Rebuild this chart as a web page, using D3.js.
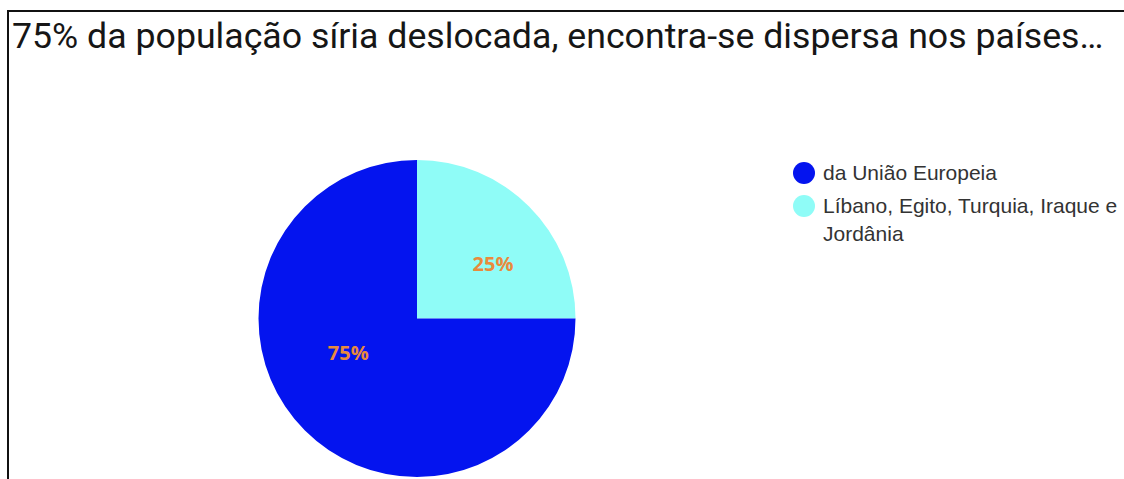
<!DOCTYPE html>
<html>
<head>
<meta charset="utf-8">
<script src="https://cdn.jsdelivr.net/npm/d3@7"></script>
<style>
  html, body { margin: 0; padding: 0; background: #fff; }
  svg { display: block; }
</style>
</head>
<body>
<svg id="chart" width="1124" height="479"></svg>
<script>
// Chart content
const title = "75% da população síria deslocada, encontra-se dispersa nos países…";
const categories = ["da União Europeia", "Líbano, Egito, Turquia, Iraque e Jordânia"];
const legendLines = [["da União Europeia"], ["Líbano, Egito, Turquia, Iraque e", "Jordânia"]];
const values = [75, 25];
const colors = ["#0414ef", "#8ffcf7"];

const svg = d3.select("#chart");
const W = 1124, H = 479;

// Frame: top and left rules
svg.append("line").attr("x1", 8).attr("x2", W).attr("y1", 11).attr("y2", 11)
  .attr("stroke", "#111").attr("stroke-width", 2);
svg.append("line").attr("x1", 8).attr("x2", 8).attr("y1", 10).attr("y2", H)
  .attr("stroke", "#111").attr("stroke-width", 2);

// Title
svg.append("text")
  .attr("x", 12).attr("y", 48)
  .attr("font-family", "Roboto, sans-serif")
  .attr("font-size", 35.7)
  .attr("fill", "#161616")
  .text(title);

// Pie
const cx = 417, cy = 318.5, R = 158.5;
const total = d3.sum(values);
const pie = d3.pie().sort(null).startAngle(0).endAngle(2 * Math.PI);
// order slices so the small one starts at 12 o'clock going clockwise
const order = [1, 0];
const arcsData = pie(order.map(i => values[i]));
const arc = d3.arc().innerRadius(0).outerRadius(R);

const g = svg.append("g").attr("transform", `translate(${cx},${cy})`);
g.selectAll("path.slice")
  .data(arcsData)
  .join("path")
  .attr("class", "slice")
  .attr("d", arc)
  .attr("fill", (d, k) => colors[order[k]]);

// Percentage labels, nudged clockwise from each slice's mid-angle
const fmt = d3.format(".0%");
function labelPos(d) {
  const span = d.endAngle - d.startAngle;
  let a = (d.startAngle + d.endAngle) / 2;
  let r = R * 0.59;
  if (span > Math.PI) { a += 0.32; r = R * 0.485; }
  else { a += 0.164; }
  return [Math.sin(a) * r, -Math.cos(a) * r];
}
g.selectAll("text.pct")
  .data(arcsData)
  .join("text")
  .attr("class", "pct")
  .attr("transform", d => `translate(${labelPos(d)})`)
  .attr("text-anchor", "middle")
  .attr("dy", "0.36em")
  .attr("font-family", "'Open Sans', sans-serif")
  .attr("font-weight", "bold")
  .attr("font-size", 20)
  .attr("fill", "#e98a3c")
  .text(d => fmt(d.value / total));

// Legend
const legend = svg.append("g");
const legendY = [173, 206];
categories.forEach((c, i) => {
  const item = legend.append("g");
  item.append("circle")
    .attr("cx", 804).attr("cy", legendY[i]).attr("r", 11)
    .attr("fill", colors[i]);
  const t = item.append("text")
    .attr("x", 823).attr("y", legendY[i] + 6.5)
    .attr("font-family", "'Liberation Sans', Arial, sans-serif")
    .attr("font-size", 21)
    .attr("fill", "#333");
  legendLines[i].forEach((line, j) => {
    t.append("tspan").attr("x", 823).attr("dy", j === 0 ? 0 : 28).text(line);
  });
});
</script>
</body>
</html>
